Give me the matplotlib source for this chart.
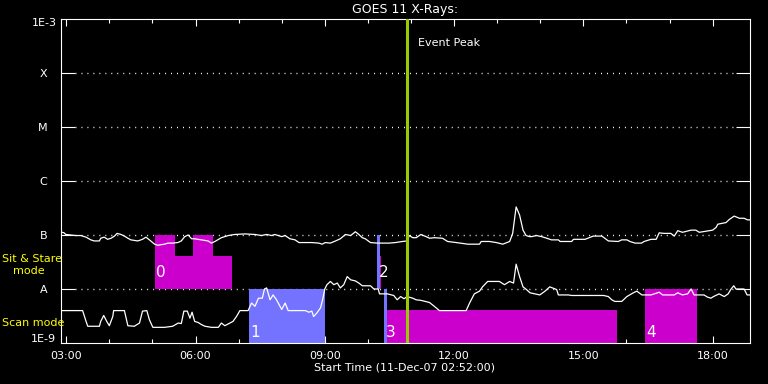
import matplotlib
matplotlib.use('Agg')
import matplotlib.pyplot as plt
from matplotlib.ticker import FixedLocator, NullLocator
import numpy as np

# ── data (hours since 00:00 on 11-Dec-07, log10 flux W/m^2) ─────────
long_hours = [2.86, 2.95, 2.99, 3.11, 3.22, 3.34, 3.46, 3.57, 3.65, 3.77, 3.80, 3.88,
              3.96, 4.04, 4.12, 4.18, 4.27, 4.35, 4.43, 4.50, 4.66, 4.77, 4.85, 4.93,
              5.05, 5.12, 5.28, 5.36, 5.47, 5.59, 5.67, 5.75, 5.83, 5.91, 5.98, 6.14,
              6.29, 6.37, 6.45, 6.60, 6.76, 6.91, 7.15, 7.38, 7.53, 7.65, 7.77, 7.84,
              8.00, 8.08, 8.19, 8.31, 8.40, 8.55, 8.70, 8.86, 8.94, 9.01, 9.13, 9.25,
              9.36, 9.48, 9.60, 9.71, 9.79, 9.87, 9.94, 10.06, 10.22, 10.49, 10.64, 10.80,
              10.91, 10.96, 11.04, 11.12, 11.23, 11.35, 11.43, 11.54, 11.73, 11.85, 12.05, 12.32,
              12.59, 12.63, 12.82, 12.98, 13.13, 13.29, 13.36, 13.44, 13.52, 13.60, 13.67, 13.75,
              13.80, 13.91, 14.03, 14.15, 14.26, 14.42, 14.46, 14.73, 14.77, 15.04, 15.23, 15.43,
              15.58, 15.81, 15.89, 16.01, 16.08, 16.20, 16.35, 16.41, 16.57, 16.69, 16.76, 16.87,
              17.03, 17.11, 17.19, 17.30, 17.50, 17.61, 17.69, 17.84, 18.00, 18.08, 18.12, 18.31,
              18.39, 18.50, 18.62, 18.73, 18.81, 18.89]
long_logflux = [-6.94, -6.96, -6.99, -7.00, -7.01, -7.01, -7.04, -7.09, -7.11, -7.11, -7.06, -7.04,
                -7.08, -7.06, -7.02, -6.97, -6.99, -7.02, -7.06, -7.09, -7.11, -7.08, -7.04, -7.09,
                -7.17, -7.19, -7.17, -7.15, -7.15, -7.14, -7.11, -7.03, -7.00, -7.07, -7.07, -7.09,
                -7.11, -7.15, -7.12, -7.05, -7.01, -6.99, -6.98, -6.99, -7.01, -6.99, -7.01, -6.99,
                -7.03, -7.01, -7.07, -7.09, -7.14, -7.14, -7.14, -7.15, -7.17, -7.14, -7.15, -7.11,
                -7.07, -6.99, -7.01, -6.94, -6.99, -7.05, -7.07, -7.14, -7.15, -7.15, -7.14, -7.12,
                -7.11, -7.01, -7.05, -7.05, -6.99, -7.03, -7.06, -7.05, -7.06, -7.12, -7.14, -7.17,
                -7.17, -7.12, -7.12, -7.14, -7.17, -7.12, -6.97, -6.48, -6.63, -6.91, -7.01, -7.03,
                -7.03, -7.01, -7.03, -7.06, -7.09, -7.09, -7.12, -7.12, -7.08, -7.08, -7.02, -7.02,
                -7.11, -7.12, -7.09, -7.09, -7.12, -7.15, -7.15, -7.12, -7.08, -7.08, -6.96, -6.97,
                -6.97, -7.02, -6.92, -6.95, -6.91, -6.91, -6.95, -6.93, -6.91, -6.86, -6.80, -6.77,
                -6.71, -6.65, -6.69, -6.69, -6.72, -6.72]

short_hours = [2.86, 3.38, 3.46, 3.50, 3.77, 3.80, 3.87, 3.94, 4.00, 4.08, 4.10, 4.35,
               4.43, 4.58, 4.70, 4.77, 4.87, 4.93, 5.01, 5.28, 5.47, 5.60, 5.67, 5.73,
               5.81, 5.87, 5.92, 5.98, 6.06, 6.14, 6.22, 6.37, 6.53, 6.60, 6.68, 6.80,
               6.87, 6.95, 7.03, 7.22, 7.30, 7.38, 7.46, 7.55, 7.60, 7.65, 7.73, 7.80,
               7.88, 8.00, 8.08, 8.15, 8.31, 8.55, 8.63, 8.70, 8.74, 8.82, 8.90, 8.95,
               9.00, 9.05, 9.13, 9.21, 9.29, 9.36, 9.44, 9.52, 9.60, 9.71, 9.79, 9.87,
               10.06, 10.14, 10.24, 10.27, 10.45, 10.60, 10.68, 10.76, 10.84, 10.91, 11.04, 11.12,
               11.23, 11.43, 11.54, 11.66, 11.97, 12.28, 12.36, 12.47, 12.59, 12.66, 12.78, 13.05,
               13.17, 13.29, 13.38, 13.44, 13.52, 13.60, 13.68, 13.76, 13.87, 13.99, 14.11, 14.22,
               14.38, 14.42, 14.65, 14.73, 15.08, 15.23, 15.47, 15.58, 15.66, 15.73, 15.89, 16.01,
               16.16, 16.24, 16.36, 16.47, 16.57, 16.76, 16.84, 17.11, 17.19, 17.30, 17.42, 17.50,
               17.57, 17.80, 17.88, 17.96, 18.02, 18.15, 18.27, 18.36, 18.42, 18.49, 18.54, 18.73,
               18.80, 18.89]
short_logflux = [-8.40, -8.40, -8.60, -8.69, -8.69, -8.60, -8.49, -8.60, -8.68, -8.51, -8.40, -8.40,
                 -8.68, -8.69, -8.63, -8.41, -8.40, -8.57, -8.71, -8.71, -8.69, -8.63, -8.64, -8.41,
                 -8.41, -8.54, -8.43, -8.60, -8.62, -8.66, -8.69, -8.71, -8.71, -8.63, -8.68, -8.63,
                 -8.60, -8.51, -8.40, -8.40, -8.26, -8.32, -8.17, -8.17, -8.00, -7.98, -8.20, -8.11,
                 -8.20, -8.38, -8.26, -8.40, -8.40, -8.40, -8.43, -8.41, -8.51, -8.44, -8.35, -8.20,
                 -8.00, -7.92, -7.86, -7.92, -7.89, -7.98, -7.92, -7.77, -7.83, -7.85, -7.89, -7.94,
                 -7.94, -8.00, -8.00, -8.09, -8.09, -8.12, -8.20, -8.14, -8.18, -8.14, -8.17, -8.20,
                 -8.21, -8.25, -8.32, -8.40, -8.40, -8.40, -8.26, -8.09, -8.04, -7.96, -7.86, -7.86,
                 -7.92, -7.86, -7.89, -7.54, -7.77, -7.96, -8.01, -8.07, -8.09, -8.11, -8.04, -7.96,
                 -8.01, -8.11, -8.11, -8.12, -8.12, -8.12, -8.12, -8.14, -8.20, -8.23, -8.23, -8.14,
                 -8.07, -8.04, -8.11, -8.11, -8.11, -8.06, -8.11, -8.11, -8.07, -8.11, -8.09, -8.00,
                 -8.11, -8.11, -8.15, -8.17, -8.14, -8.09, -8.14, -8.09, -8.01, -7.94, -8.00, -8.00,
                 -8.11, -8.11]

# observation blocks (start/end hour, log10 flux extent, kind)
obs_start = [5.05, 5.52, 5.94, 6.40, 7.24, 10.22, 10.28, 10.37, 10.45, 16.43]
obs_end   = [5.52, 5.94, 6.40, 6.84, 9.01, 10.28, 10.31, 10.45, 15.79, 17.64]
obs_low   = [-8.0, -8.0, -8.0, -8.0, -9.0, -8.0, -8.0, -9.0, -9.0, -9.0]
obs_high  = [-7.0, -7.39, -7.0, -7.39, -8.0, -7.0, -7.39, -8.0, -8.38, -8.0]
obs_kind  = ['m', 'm', 'm', 'm', 'b', 'b', 'm', 'b', 'm', 'm']

group_labels = ['0', '1', '2', '3', '4']
group_start  = [5.05, 7.24, 10.22, 10.37, 16.43]
group_mode   = ['sit', 'scan', 'sit', 'scan', 'scan']

event_peak = 10.91
x_range = [2.867, 18.867]

class_levels = [-4, -5, -6, -7, -8]
class_names = ['X', 'M', 'C', 'B', 'A']
hour_ticks = [3, 6, 9, 12, 15, 18]
hour_labels = ['03:00', '06:00', '09:00', '12:00', '15:00', '18:00']

# ── style ────────────────────────────────────────────────────────────
KIND_COL = {'m': '#CC00CC', 'b': '#7373FF'}
MODE_Y = {'sit': -7.69, 'scan': -8.80}
W, Y = 'white', '#FFFF00'
FS = 8

fig = plt.figure(figsize=(7.68, 3.84), dpi=100)
fig.patch.set_facecolor('black')
ax = fig.add_axes([60.5/768, 1-343/384, (750-60.5)/768, (343-19)/384])
ax.set_facecolor('black')
ax.set_yscale('log')
ax.set_xlim(*x_range)
ax.set_ylim(1e-9, 1e-3)

# dotted class lines
for lv in class_levels:
    ax.axhline(10.0**lv, xmin=0.0205, xmax=0.9795, color=W, lw=1.0,
               dashes=(0.7, 3.6), zorder=1)

# observation blocks
for s, e, lo, hi, k in zip(obs_start, obs_end, obs_low, obs_high, obs_kind):
    ax.bar(s, 10.0**hi - 10.0**lo, bottom=10.0**lo, width=e - s, align='edge',
           color=KIND_COL[k], lw=0, zorder=2)
for lbl, s, m in zip(group_labels, group_start, group_mode):
    ax.text(s + 0.04, 10.0**MODE_Y[m], lbl, color=W, fontsize=11,
            ha='left', va='center', zorder=5)

# GOES curves
ax.plot(long_hours, 10.0**np.array(long_logflux), color=W, lw=0.9, zorder=3)
ax.plot(short_hours, 10.0**np.array(short_logflux), color=W, lw=0.9, zorder=3)

# event peak
ax.axvline(event_peak, color='#99CC00', lw=2.2, zorder=4)
ax.text(event_peak + 0.25, 10.0**-3.44, 'Event Peak', color=W, fontsize=FS,
        ha='left', va='center')

# axes / ticks
for sp in ax.spines.values():
    sp.set_color(W)
    sp.set_linewidth(0.8)
ax.yaxis.set_major_locator(FixedLocator([10.0**lv for lv in class_levels]))
ax.yaxis.set_minor_locator(NullLocator())
ax.set_yticklabels(class_names)
ax.tick_params(axis='y', which='major', direction='in', length=10, width=0.8,
               color=W, left=True, right=True, labelcolor=W, labelsize=FS, pad=9.5)
ax.xaxis.set_major_locator(FixedLocator(hour_ticks))
ax.xaxis.set_minor_locator(FixedLocator(range(3, 19)))
ax.set_xticklabels(hour_labels)
ax.tick_params(axis='x', which='major', direction='in', length=5, width=0.8,
               color=W, top=True, bottom=True, labelcolor=W, labelsize=FS, pad=6)
ax.tick_params(axis='x', which='minor', direction='in', length=3, width=0.8,
               color=W, top=True, bottom=True)

# end labels of the y axis
ax.text(-0.005, 0.988, '1E-3', transform=ax.transAxes, color=W, fontsize=FS,
        ha='right', va='center')
ax.text(-0.007, 0.011, '1E-9', transform=ax.transAxes, color=W, fontsize=FS,
        ha='right', va='center')

# mode labels (yellow, left margin)
fig.text(2/768, 1-259/384, 'Sit & Stare', color=Y, fontsize=FS, ha='left', va='center')
fig.text(12.5/768, 1-271.5/384, 'mode', color=Y, fontsize=FS, ha='left', va='center')
fig.text(2/768, 1-323/384, 'Scan mode', color=Y, fontsize=FS, ha='left', va='center')

# title and x label
fig.text(405/768, 1-9.5/384, 'GOES 11 X-Rays:', color=W, fontsize=9,
         ha='center', va='center')
fig.text(405/768, 1-368/384, 'Start Time (11-Dec-07 02:52:00)', color=W,
         fontsize=FS, ha='center', va='center')

fig.savefig('out.png', dpi=100, facecolor='black')
